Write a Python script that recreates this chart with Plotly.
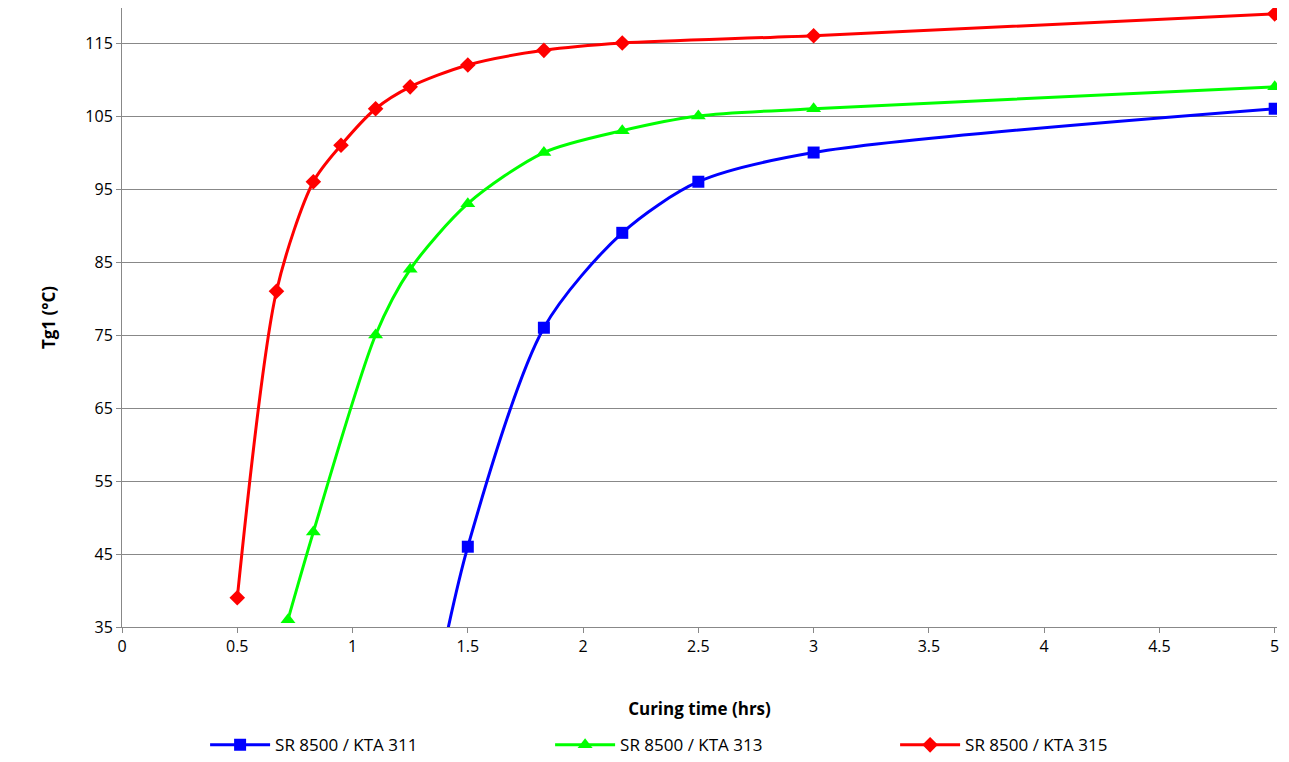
import plotly.graph_objects as go

# Curing time (hrs) vs Tg1 (°C)
x_311 = [1.33, 1.5, 1.83, 2.17, 2.5, 3, 5]
y_311 = [22, 46, 76, 89, 96, 100, 106]
x_313 = [0.72, 0.83, 1.1, 1.25, 1.5, 1.83, 2.17, 2.5, 3, 5]
y_313 = [36, 48, 75, 84, 93, 100, 103, 105, 106, 109]
x_315 = [0.5, 0.67, 0.83, 0.95, 1.1, 1.25, 1.5, 1.83, 2.17, 3, 5]
y_315 = [39, 81, 96, 101, 106, 109, 112, 114, 115, 116, 119]
x_ticks = [0, 0.5, 1, 1.5, 2, 2.5, 3, 3.5, 4, 4.5, 5]
y_ticks = [35, 45, 55, 65, 75, 85, 95, 105, 115]

fig = go.Figure()
series = [
    ("SR 8500 / KTA 311", x_311, y_311, "#0000FF", "square", 12),
    ("SR 8500 / KTA 313", x_313, y_313, "#00FF00", "triangle-up", 13),
    ("SR 8500 / KTA 315", x_315, y_315, "#FF0000", "diamond", 12),
]
for name, xs, ys, col, sym, sz in series:
    fig.add_trace(go.Scatter(
        x=xs, y=ys, name=name, mode="lines+markers",
        line=dict(color=col, width=3, shape="spline", smoothing=0.8),
        marker=dict(color=col, symbol=sym, size=sz),
    ))

fig.update_layout(
    width=1289, height=762,
    paper_bgcolor="white", plot_bgcolor="white",
    font=dict(family="Open Sans, Liberation Sans, sans-serif", size=16, color="black"),
    margin=dict(l=114, r=20, t=0, b=143, autoexpand=False),
    legend=dict(orientation="h", x=0.52, xanchor="center", y=-0.162, yanchor="top",
                font=dict(size=17), itemwidth=60, entrywidth=270),
)
fig.update_xaxes(
    range=[0, 5.01], tickvals=x_ticks, ticktext=[f"{v:g}" for v in x_ticks],
    showgrid=False, zeroline=False, automargin=False,
    showline=True, linecolor="#888", ticks="outside", ticklen=5, tickcolor="#888",
    title=dict(text="<b>Curing time (hrs)</b>", font=dict(size=17), standoff=46),
)
fig.update_yaxes(
    range=[35, 119.8], tickvals=y_ticks, showgrid=True, gridcolor="#888", gridwidth=1,
    zeroline=False, showline=True, linecolor="#888", ticks="outside", ticklen=5,
    tickcolor="#888", automargin=False,
    title=dict(text="<b>Tg1 (°C)</b>", font=dict(size=17), standoff=25),
)
fig.write_html("out.html")
